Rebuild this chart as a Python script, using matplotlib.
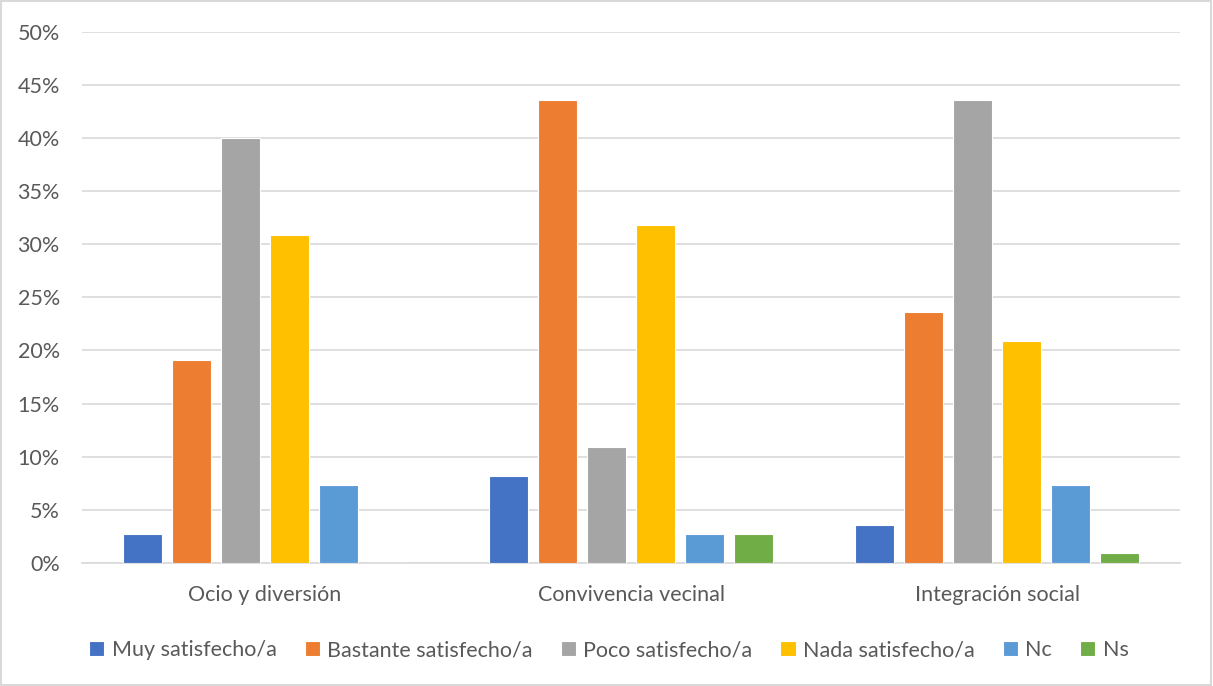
import numpy as np
import matplotlib
matplotlib.use("Agg")
import matplotlib.pyplot as plt
from matplotlib.ticker import PercentFormatter

plt.rcParams['font.family'] = ['Lato', 'DejaVu Sans']

categorias = ["Ocio y diversión", "Convivencia vecinal", "Integración social"]
series = ["Muy satisfecho/a", "Bastante satisfecho/a", "Poco satisfecho/a",
          "Nada satisfecho/a", "Nc", "Ns"]
muy = [2.7, 8.2, 3.6]
bastante = [19.1, 43.6, 23.6]
poco = [40.0, 10.9, 43.6]
nada = [30.9, 31.8, 20.9]
nc = [7.3, 2.7, 7.3]
ns = [0.0, 2.7, 0.9]
colores = ["#4472C4", "#ED7D31", "#A5A5A5", "#FFC000", "#5B9BD5", "#70AD47"]

valores = [muy, bastante, poco, nada, nc, ns]
txt = "#595959"

fig = plt.figure(figsize=(12.13, 6.86), dpi=100)
ax = fig.add_axes([0.0676, 0.1793, 0.9052, 0.7745])

x = np.arange(len(categorias))
paso = 0.134
ancho = 0.108
for i, (serie, vals) in enumerate(zip(series, valores)):
    off = (i - 2.5) * paso
    ax.bar(x + off, vals, ancho, color=colores[i], label=serie,
           edgecolor="white", linewidth=0.8, zorder=3)

ax.set_xlim(-0.5, 2.5)
ax.set_ylim(0, 50)
ax.set_yticks(np.arange(0, 51, 5))
ax.yaxis.set_major_formatter(PercentFormatter(decimals=0))
ax.set_xticks(x)
ax.set_xticklabels(categorias)
ax.grid(axis='y', color="#D9D9D9", linewidth=1.2, zorder=0)
for s in ["top", "right", "left"]:
    ax.spines[s].set_visible(False)
ax.spines["bottom"].set_color("#D9D9D9")
ax.spines["bottom"].set_linewidth(1.2)
ax.tick_params(axis='both', length=0, colors=txt, labelsize=15.5)
ax.tick_params(axis='x', pad=16)
ax.tick_params(axis='y', pad=16)

fig.legend(loc="center", bbox_to_anchor=(0.502, 0.052), ncol=6, frameon=False,
           fontsize=15.5, labelcolor=txt, handlelength=0.7, handleheight=0.7,
           handletextpad=0.35, columnspacing=1.3)

# marco exterior
fig.patches.append(plt.Rectangle((0.001, 0.001), 0.997, 0.997, transform=fig.transFigure,
                                 fill=False, edgecolor="#D9D9D9", linewidth=1.5))

fig.savefig("out.png", dpi=100)
